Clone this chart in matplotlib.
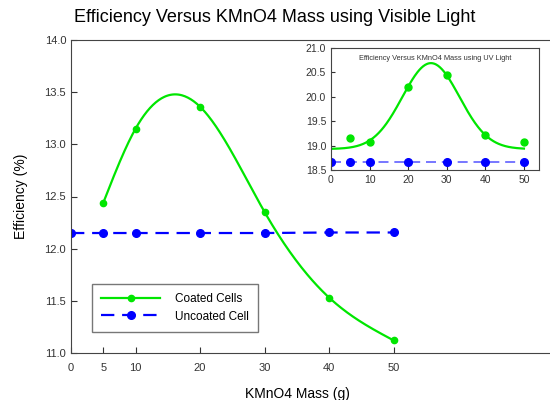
import numpy as np
import matplotlib
matplotlib.use("Agg")
import matplotlib.pyplot as plt

plt.rcParams['font.family'] = ['Liberation Sans', 'DejaVu Sans']

# visible light data
mass_coated = [5, 10, 20, 30, 40, 50]
eff_coated = [12.44, 13.15, 13.36, 12.35, 11.53, 11.12]
mass_uncoated = [0, 5, 10, 20, 30, 40, 50]
eff_uncoated = [12.15, 12.15, 12.15, 12.15, 12.15, 12.155, 12.155]

# UV light data (inset)
uv_mass = [5, 10, 20, 30, 40, 50]
uv_coated = [19.16, 19.08, 20.21, 20.45, 19.21, 19.08]
uv_mass_unc = [0, 5, 10, 20, 30, 40, 50]
uv_uncoated = [18.67, 18.67, 18.67, 18.67, 18.67, 18.67, 18.67]
# gaussian fit curve for UV coated cells
uv_fit_base, uv_fit_amp, uv_fit_centre, uv_fit_width = 18.93, 1.76, 25.9, 7.4

xticks_main = [0, 5, 10, 20, 30, 40, 50]
green = '#00e600'


def natural_spline(x, y, xs):
    x = np.asarray(x, float)
    y = np.asarray(y, float)
    n = len(x)
    h = np.diff(x)
    A = np.zeros((n, n))
    b = np.zeros(n)
    A[0, 0] = A[-1, -1] = 1
    for i in range(1, n - 1):
        A[i, i - 1] = h[i - 1]
        A[i, i] = 2 * (h[i - 1] + h[i])
        A[i, i + 1] = h[i]
        b[i] = 6 * ((y[i + 1] - y[i]) / h[i] - (y[i] - y[i - 1]) / h[i - 1])
    M = np.linalg.solve(A, b)
    out = np.empty_like(xs)
    for k, xv in enumerate(xs):
        i = int(np.clip(np.searchsorted(x, xv) - 1, 0, n - 2))
        t1 = x[i + 1] - xv
        t0 = xv - x[i]
        out[k] = (M[i] * t1**3 + M[i + 1] * t0**3) / (6 * h[i]) \
            + (y[i] / h[i] - M[i] * h[i] / 6) * t1 \
            + (y[i + 1] / h[i] - M[i + 1] * h[i] / 6) * t0
    return out


fig = plt.figure(figsize=(5.5, 4), dpi=100)
ax = fig.add_axes([71/550, 1-353/400, 1-71/550, (353-40)/400])

xs = np.linspace(5, 50, 300)
ax.plot(xs, natural_spline(mass_coated, eff_coated, xs), color=green, lw=1.6)
ax.plot(mass_coated, eff_coated, 'o', color=green, ms=4.5)
ax.plot([], [], color=green, lw=1.6, marker='o', ms=4.5, label='Coated Cells')
ax.plot(mass_uncoated, eff_uncoated, color='#0000ff', lw=1.6, ls=(0, (6, 3.5)),
        marker='o', ms=5.5, label='Uncoated Cell')

ax.set_xlim(0, 74.2)
ax.set_ylim(11.0, 14.0)
ax.set_xticks(xticks_main)
ax.set_yticks(np.arange(11.0, 14.01, 0.5))
ax.set_yticklabels([f'{v:.1f}' for v in np.arange(11.0, 14.01, 0.5)])
ax.tick_params(direction='in', labelsize=8, colors='#333333', length=4)
ax.tick_params(axis='x', pad=7)
for side in ['left', 'bottom', 'top']:
    ax.spines[side].set_color('#444444')
ax.spines['right'].set_visible(False)
fig.text(275/550, 1-18/400, 'Efficiency Versus KMnO4 Mass using Visible Light',
         fontsize=13, ha='center', va='center')
ax.set_xlabel('KMnO4 Mass (g)', fontsize=10, labelpad=10)
ax.xaxis.label.set_x((297 - 71) / (550 - 71))
ax.set_ylabel('Efficiency (%)', fontsize=10, labelpad=12)

leg = ax.legend(loc='lower left', bbox_to_anchor=(92/550, 1-332/400),
                bbox_transform=fig.transFigure, fontsize=8.5, fancybox=False,
                edgecolor='#555555', handlelength=5, borderpad=0.8, labelspacing=0.45,
                borderaxespad=0, handletextpad=1.2)
leg.get_frame().set_linewidth(1)

# inset UV
ins = fig.add_axes([331/550, 1-170/400, (539-331)/550, (170-48)/400])
xu = np.linspace(0, 50, 300)
fit_curve = uv_fit_base + uv_fit_amp * np.exp(-(xu - uv_fit_centre)**2 / (2 * uv_fit_width**2))
ins.plot(xu, fit_curve, color=green, lw=1.6)
ins.plot(uv_mass, uv_coated, 'o', color=green, ms=5)
ins.plot(uv_mass_unc, uv_uncoated, color='#6060ff', lw=1.2, ls=(0, (6, 3.5)))
ins.plot(uv_mass_unc, uv_uncoated, 'o', color='#0000ff', ms=5.5)
ins.set_xlim(0, 53.9)
ins.set_ylim(18.5, 21.0)
ins.set_xticks([0, 10, 20, 30, 40, 50])
ins.set_yticks(np.arange(18.5, 21.01, 0.5))
ins.set_yticklabels([f'{v:.1f}' for v in np.arange(18.5, 21.01, 0.5)])
ins.tick_params(direction='in', labelsize=7.5, colors='#333333', length=3)
for side in ins.spines:
    ins.spines[side].set_color('#444444')
ins.text(0.5, 0.91, 'Efficiency Versus KMnO4 Mass using UV Light', transform=ins.transAxes,
         ha='center', va='center', fontsize=5.3, color='#333333')

fig.savefig('out.png', dpi=100)
